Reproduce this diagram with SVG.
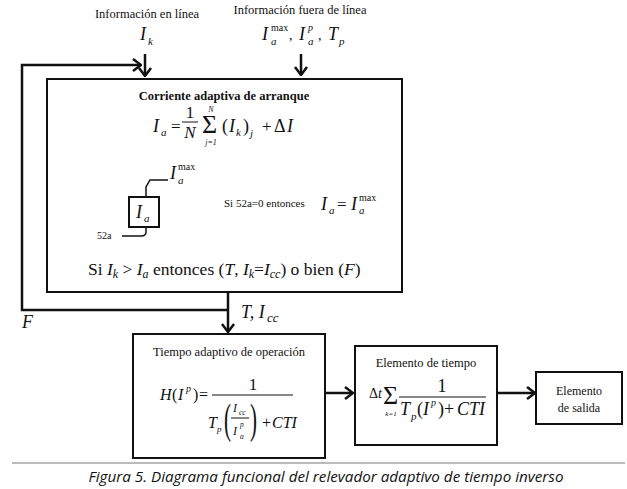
<svg xmlns="http://www.w3.org/2000/svg" width="627" height="489" viewBox="0 0 627 489" font-family="'Liberation Serif','Tinos','DejaVu Serif',serif">
<style>
text{font-family:"Liberation Serif","Tinos","DejaVu Serif",serif;fill:#111}
.i{font-style:italic}
.b{font-weight:bold}
.box{fill:#fff;stroke:#111;stroke-width:2}
.ln{fill:none;stroke:#111;stroke-width:2.5}
.thin{fill:none;stroke:#111;stroke-width:1.5}
text.cap{font-family:"Open Sans","DejaVu Sans",sans-serif;font-style:italic}
</style>
<defs>
<marker id="arr" viewBox="0 0 10 14" refX="9" refY="7" markerWidth="10" markerHeight="14" markerUnits="userSpaceOnUse" orient="auto">
<path d="M1,1 L9,7 L1,13" fill="none" stroke="#111" stroke-width="2.5"/>
</marker>
</defs>
<rect width="627" height="489" fill="#fff"/>

<g id="inputs">
<text x="147" y="18" font-size="12.5" text-anchor="middle">Información en línea</text>
<text x="140" y="40" font-size="18" class="i">I</text>
<text x="148" y="45" font-size="11" class="i">k</text>
<text x="300" y="14" font-size="12.5" text-anchor="middle">Información fuera de línea</text>
<text x="262" y="40" font-size="18" class="i">I</text>
<text x="271" y="31" font-size="10">max</text>
<text x="271" y="45" font-size="11" class="i">a</text>
<text x="289" y="40" font-size="14">,</text>
<text x="299" y="40" font-size="18" class="i">I</text>
<text x="308" y="31" font-size="10" class="i">p</text>
<text x="308" y="45" font-size="11" class="i">a</text>
<text x="318" y="40" font-size="14">,</text>
<text x="328" y="40" font-size="18" class="i">T</text>
<text x="339" y="45" font-size="11" class="i">p</text>
</g>

<g id="connectors">
<path class="ln" d="M228,310 H22 V65 H141" marker-end="url(#arr)"/>
<path class="ln" d="M145,54 V76" marker-end="url(#arr)"/>
<path class="ln" d="M301,54 V75" marker-end="url(#arr)"/>
<path class="ln" d="M228,292 V332" marker-end="url(#arr)"/>
<path class="ln" d="M325,393 H353" marker-end="url(#arr)"/>
<path class="ln" d="M497,393 H535" marker-end="url(#arr)"/>
<text x="22" y="328" font-size="18" class="i">F</text>
<text x="241" y="318" font-size="18" class="i">T, I</text>
<text x="267" y="322" font-size="13" class="i">cc</text>
</g>

<g id="corriente">
<rect class="box" x="47" y="79" width="355" height="213"/>
<text x="224" y="100" font-size="12.5" class="b" text-anchor="middle">Corriente adaptiva de arranque</text>
<text x="153" y="132" font-size="18" class="i">I</text>
<text x="161" y="136" font-size="11" class="i">a</text>
<text x="171" y="132" font-size="17">=</text>
<text x="190" y="118" font-size="17" text-anchor="middle">1</text>
<line x1="182" y1="122" x2="198" y2="122" stroke="#111" stroke-width="1"/>
<text x="190" y="138" font-size="17" class="i" text-anchor="middle">N</text>
<text x="202" y="133" font-size="26">Σ</text>
<text x="211" y="112" font-size="8" class="i" text-anchor="middle">N</text>
<text x="211" y="145" font-size="8" class="i" text-anchor="middle">j=1</text>
<text x="222" y="132" font-size="18">(</text>
<text x="229" y="132" font-size="18" class="i">I</text>
<text x="236" y="136" font-size="11" class="i">k</text>
<text x="243" y="132" font-size="18">)</text>
<text x="250" y="137" font-size="11" class="i">j</text>
<text x="262" y="132" font-size="17">+</text>
<text x="274" y="132" font-size="18">Δ</text>
<text x="287" y="132" font-size="18" class="i">I</text>

<text x="170" y="179" font-size="18" class="i">I</text>
<text x="178" y="170" font-size="10">max</text>
<text x="178" y="184" font-size="11" class="i">a</text>
<rect class="box" x="129" y="197" width="30" height="30"/>
<text x="136" y="218" font-size="18" class="i">I</text>
<text x="144" y="222" font-size="11" class="i">a</text>
<path class="thin" d="M146,197 V187 L150,180 H168"/>
<path class="thin" d="M146,227 V232 Q146,236 141,236 H122"/>
<text x="97" y="239" font-size="10">52a</text>
<text x="224" y="207" font-size="11">Si 52a=0 entonces</text>
<text x="321" y="210" font-size="18" class="i">I</text>
<text x="329" y="214" font-size="11" class="i">a</text>
<text x="337" y="210" font-size="17">=</text>
<text x="351" y="210" font-size="18" class="i">I</text>
<text x="359" y="201" font-size="10">max</text>
<text x="359" y="214" font-size="11" class="i">a</text>

<text x="88" y="275" font-size="17.5">Si <tspan class="i">I</tspan><tspan class="i" font-size="12" dy="3">k</tspan><tspan dy="-3"> &gt; </tspan><tspan class="i">I</tspan><tspan class="i" font-size="12" dy="3">a</tspan><tspan dy="-3">  entonces (</tspan><tspan class="i">T</tspan>, <tspan class="i">I</tspan><tspan class="i" font-size="12" dy="3">k</tspan><tspan dy="-3">=</tspan><tspan class="i">I</tspan><tspan class="i" font-size="12" dy="3">cc</tspan><tspan dy="-3">) o bien (</tspan><tspan class="i">F</tspan>)</text>
</g>

<g id="tiempo-adaptivo">
<rect class="box" x="133" y="334" width="192" height="124"/>
<text x="229" y="356" font-size="12.5" text-anchor="middle">Tiempo adaptivo de operación</text>
<text x="160" y="400" font-size="16" class="i">H</text>
<text x="172" y="400" font-size="16">(</text>
<text x="178" y="400" font-size="16" class="i">I</text>
<text x="186" y="392" font-size="10" class="i">p</text>
<text x="193" y="400" font-size="16">)</text>
<text x="199" y="400" font-size="16">=</text>
<line x1="212" y1="395" x2="293" y2="395" stroke="#111" stroke-width="1"/>
<text x="253" y="390" font-size="17" text-anchor="middle">1</text>
<text x="208" y="428" font-size="16" class="i">T</text>
<text x="217" y="432" font-size="9" class="i">p</text>
<text transform="translate(224,433) scale(1,2)" font-size="21">(</text>
<text x="233" y="412" font-size="12" class="i">I</text>
<text x="239" y="415" font-size="7.5" class="i">cc</text>
<line x1="231" y1="418" x2="249" y2="418" stroke="#111" stroke-width="1"/>
<text x="233" y="435" font-size="12" class="i">I</text>
<text x="240" y="427" font-size="7.5" class="i">p</text>
<text x="240" y="439" font-size="7.5" class="i">a</text>
<text transform="translate(250,433) scale(1,2)" font-size="21">)</text>
<text x="262" y="428" font-size="16">+</text>
<text x="272" y="428" font-size="16" class="i">CTI</text>
</g>

<g id="elemento-tiempo">
<rect class="box" x="355" y="346" width="142" height="99"/>
<text x="426" y="367" font-size="12.5" text-anchor="middle">Elemento de tiempo</text>
<text x="369" y="398" font-size="14">Δ<tspan class="i">t</tspan></text>
<text x="383" y="404" font-size="26">Σ</text>
<text x="391" y="416" font-size="7" class="i" text-anchor="middle">k=1</text>
<text x="442" y="392" font-size="18" text-anchor="middle">1</text>
<line x1="399" y1="397" x2="486" y2="397" stroke="#111" stroke-width="1"/>
<text x="400" y="415" font-size="18" class="i">T</text>
<text x="411" y="420" font-size="11" class="i">p</text>
<text x="417" y="415" font-size="18">(</text>
<text x="423" y="415" font-size="18" class="i">I</text>
<text x="431" y="406" font-size="10" class="i">p</text>
<text x="438" y="415" font-size="18">)+</text>
<text x="457" y="415" font-size="18" class="i">CTI</text>
</g>

<g id="elemento-salida">
<rect class="box" x="536" y="372" width="86" height="52"/>
<text x="579" y="395" font-size="12" text-anchor="middle">Elemento</text>
<text x="579" y="412" font-size="12" text-anchor="middle">de salida</text>
</g>

<line x1="12" y1="463" x2="625" y2="463" stroke="#777" stroke-width="1"/>
<text x="326" y="482" font-size="14" class="cap" text-anchor="middle" textLength="475" lengthAdjust="spacingAndGlyphs">Figura 5. Diagrama funcional del relevador adaptivo de tiempo inverso</text>
</svg>
